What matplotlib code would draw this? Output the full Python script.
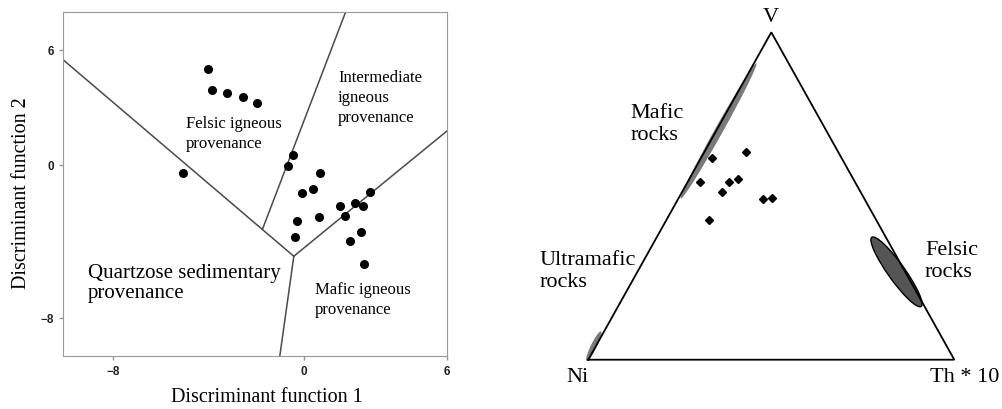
import numpy as np
import matplotlib
matplotlib.use("Agg")
import matplotlib.pyplot as plt
from matplotlib.patches import Ellipse

W, H_PX = 1003, 410

# Discriminant function scores (DF1, DF2)
df1 = [-4.03, -3.84, -3.24, -2.57, -1.98, -5.07, -0.47, -0.68, 0.70, -0.08, 0.39,
       2.77, 1.53, 2.17, 2.50, 1.71, -0.29, 0.65, -0.38, 2.39, 1.96, 2.52]
df2 = [4.98, 3.90, 3.73, 3.55, 3.19, -0.46, 0.48, -0.06, -0.46, -1.47, -1.30,
       -1.42, -2.17, -1.99, -2.17, -2.71, -2.97, -2.76, -3.81, -3.53, -3.98, -5.19]

# Field boundaries of the discriminant diagram
boundaries = [
    [(-10.06, 5.42), (-0.42, -4.79)],
    [(1.75, 7.95), (-1.74, -3.39)],
    [(-0.42, -4.79), (6.01, 1.75)],
    [(-0.42, -4.79), (-1.01, -10.02)],
]

# Ternary Ni - V - Th*10 (percent)
ni = [35.4, 25.3, 42.3, 34.3, 31.5, 38.0, 27.7, 25.1, 45.6]
v = [61.5, 63.3, 54.4, 54.4, 55.1, 51.1, 49.1, 49.4, 42.8]
th = [3.1, 11.4, 3.3, 11.3, 13.4, 10.9, 23.2, 25.5, 11.6]

TRI_H = 327.4 / 366.0  # drawn height of the triangle relative to its base


def px(x, y):
    return x / W, 1 - y / H_PX


def tern(ni_, v_, th_):
    tot = np.asarray(ni_) + np.asarray(v_) + np.asarray(th_)
    vv = np.asarray(v_) / tot
    tt = np.asarray(th_) / tot
    return tt + vv / 2, vv * TRI_H


serif = "Liberation Serif"
fig = plt.figure(figsize=(W / 100, H_PX / 100), dpi=100)

# ---- discriminant function diagram ----
ax = fig.add_axes([63.3 / W, 53 / H_PX, 383.4 / W, 343.7 / H_PX])
ax.set_xlim(-10.1, 6)
ax.set_ylim(-10, 7.95)
for b in boundaries:
    ax.plot([b[0][0], b[1][0]], [b[0][1], b[1][1]], color="#4a4a4a", lw=1.1)
ax.plot(df1, df2, "o", color="black", ms=5.5, ls="none")
ax.set_xticks([-8, 0, 6])
ax.set_yticks([-8, 0, 6])
for s in ax.spines.values():
    s.set_color("#999999")
ax.tick_params(colors="#999999", length=3, width=1, labelcolor="#222222")
for lab in ax.get_xticklabels() + ax.get_yticklabels():
    lab.set_fontfamily("Liberation Sans")
    lab.set_fontweight("bold")
    lab.set_fontsize(8.5)

fig.text(*px(338, 98), "Intermediate\nigneous\nprovenance", family=serif,
         fontsize=12, ha="left", va="center", linespacing=1.3)
fig.text(*px(186, 134), "Felsic igneous\nprovenance", family=serif,
         fontsize=12, ha="left", va="center", linespacing=1.3)
fig.text(*px(88, 283.5), "Quartzose sedimentary\nprovenance", family=serif,
         fontsize=15, ha="left", va="center", linespacing=1.1)
fig.text(*px(315, 300), "Mafic igneous\nprovenance", family=serif,
         fontsize=12, ha="left", va="center", linespacing=1.3)
fig.text(*px(22, 193), "Discriminant function 2", family=serif, fontsize=14.5,
         rotation=90, ha="center", va="center")
fig.text(*px(267, 398), "Discriminant function 1", family=serif, fontsize=14.5,
         ha="center", va="center")

# ---- Ni - V - Th*10 ternary ----
tx = fig.add_axes([588.3 / W, 49.3 / H_PX, 366 / W, 327.4 / H_PX])
tx.set_xlim(0, 1)
tx.set_ylim(0, TRI_H)
tx.axis("off")

fields = [
    # centre x, centre y, length, width, angle, face, edge
    (0.356, 0.625, 0.424, 0.022, 60.8, "#7a7a7a", "none"),
    (0.015, 0.037, 0.090, 0.016, 64.0, "#7a7a7a", "none"),
    (0.842, 0.240, 0.232, 0.046, -54.5, "#555555", "black"),
]
for cx, cy, ln, wd, ang, fc, ec in fields:
    tx.add_patch(Ellipse((cx, cy), ln, wd, angle=ang, facecolor=fc,
                         edgecolor=ec, lw=1, clip_on=False))

tx.plot([0, 1, 0.5, 0], [0, 0, TRI_H, 0], color="black", lw=1.3,
        clip_on=False, solid_joinstyle="miter")
x_t, y_t = tern(ni, v, th)
tx.plot(x_t, y_t, "D", color="black", ms=4.5, ls="none")

fig.text(*px(771, 17), "V", family=serif, fontsize=16, ha="center", va="center")
fig.text(*px(630.7, 124.5), "Mafic\nrocks", family=serif, fontsize=16,
         ha="left", va="center")
fig.text(*px(540, 271.5), "Ultramafic\nrocks", family=serif, fontsize=16,
         ha="left", va="center")
fig.text(*px(925, 261.5), "Felsic\nrocks", family=serif, fontsize=16,
         ha="left", va="center")
fig.text(*px(566, 378), "Ni", family=serif, fontsize=16, ha="left", va="center")
fig.text(*px(930, 378), "Th * 10", family=serif, fontsize=16, ha="left",
         va="center")

fig.savefig("out.png", dpi=100)
